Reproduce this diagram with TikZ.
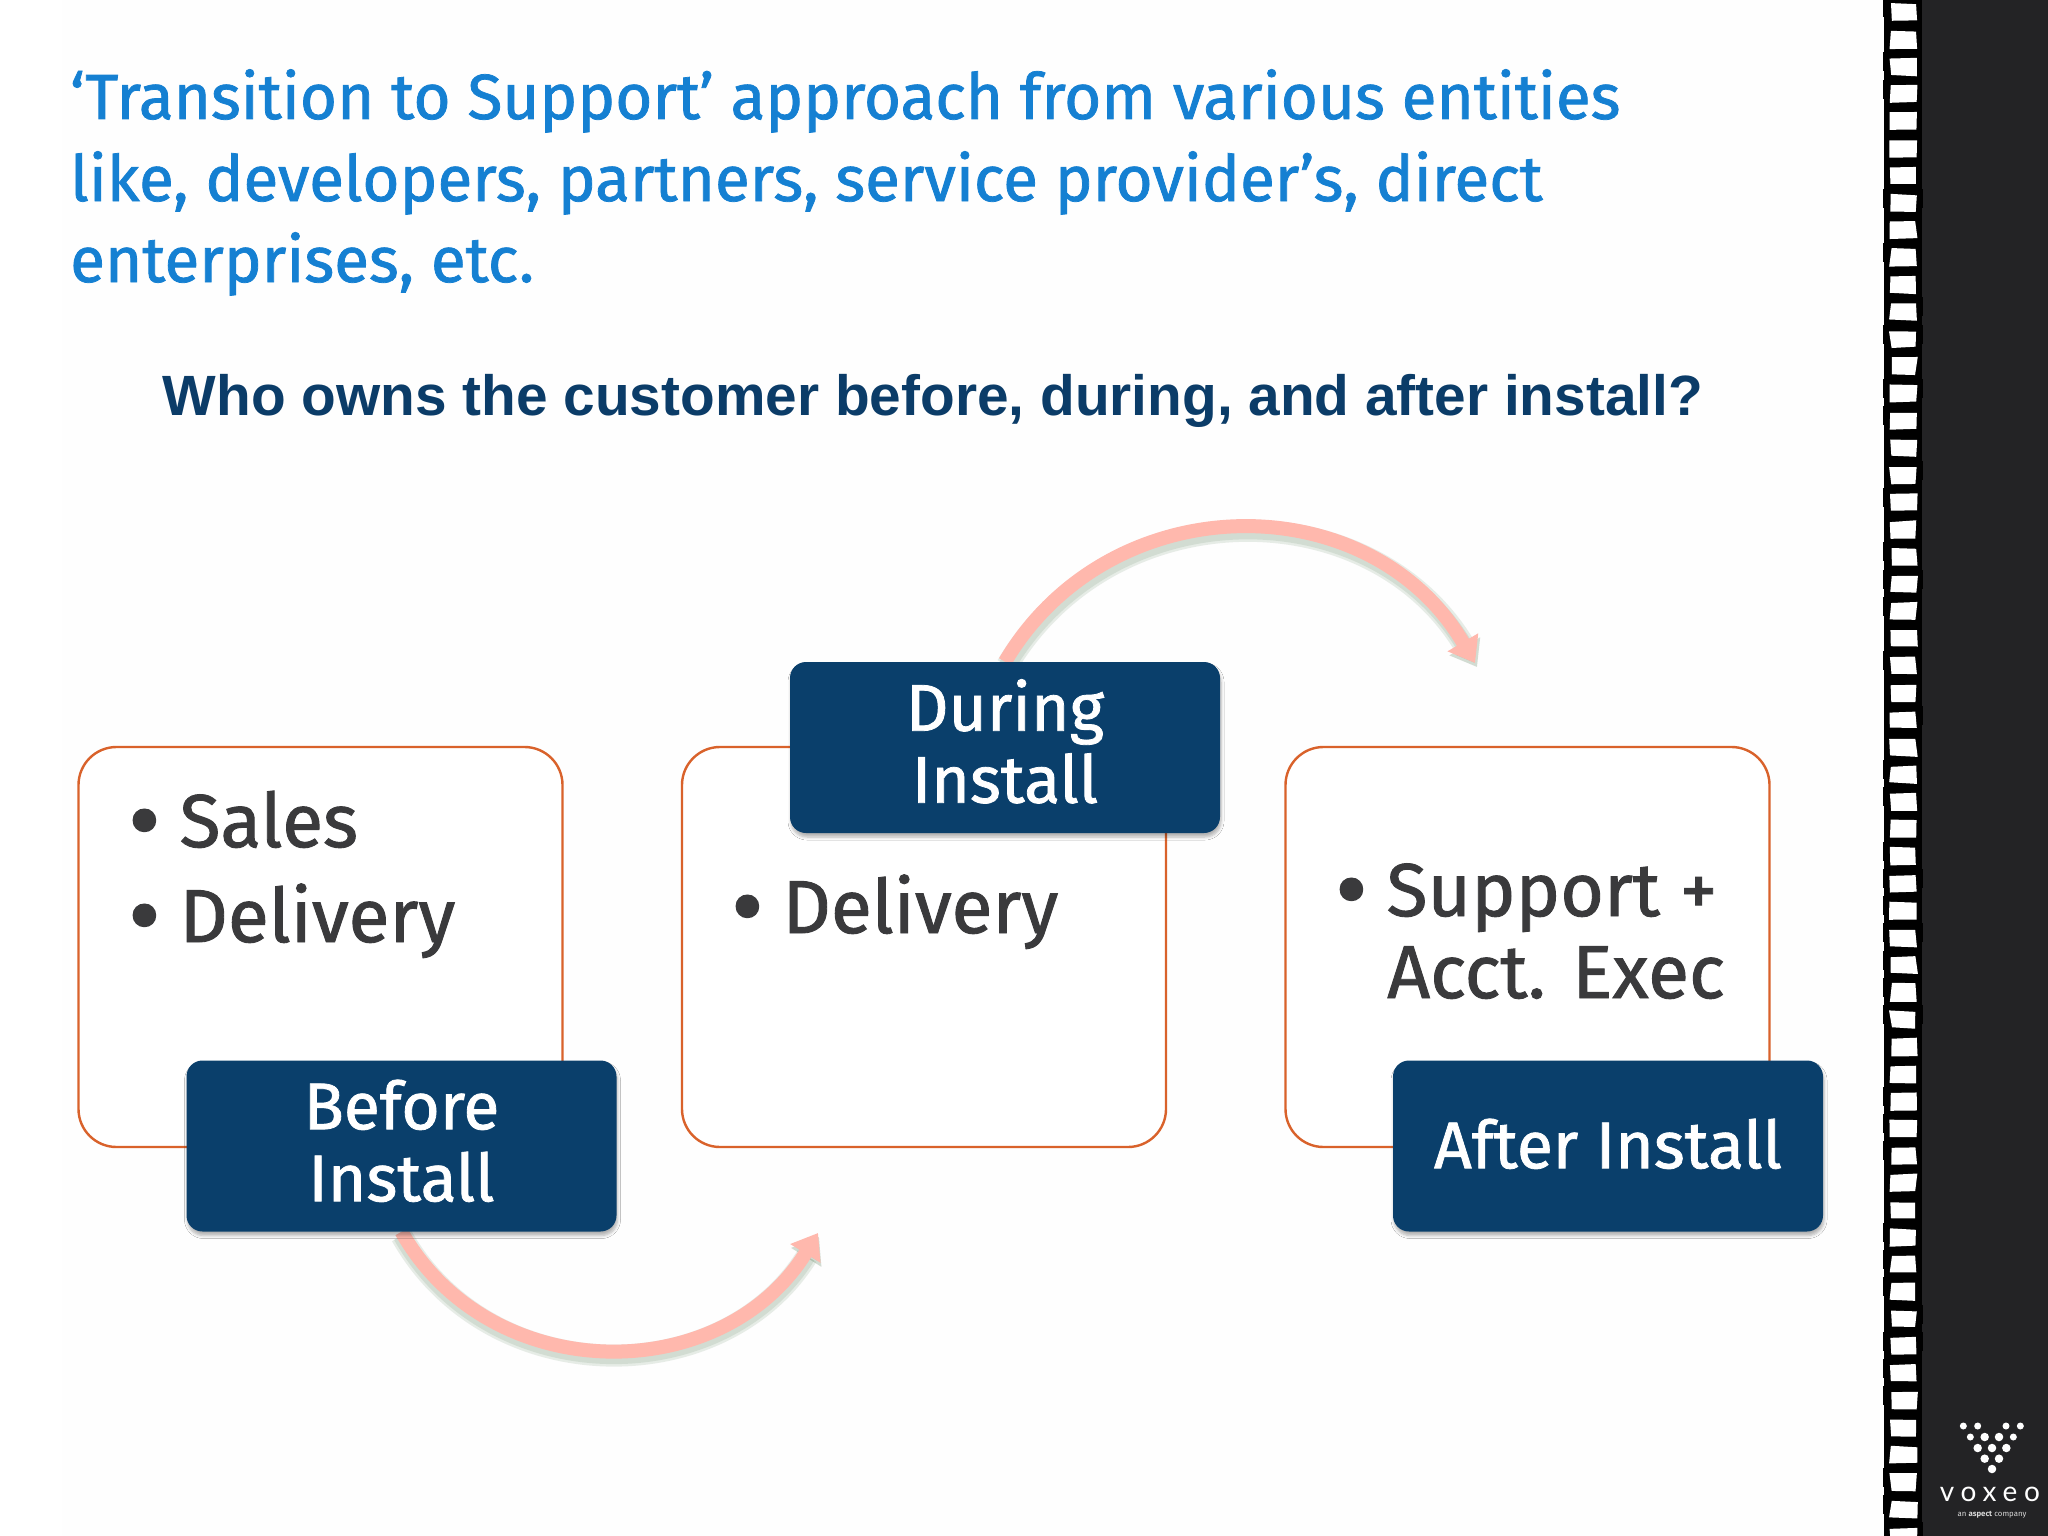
\documentclass[tikz,border=0pt]{standalone}
\usepackage{fontspec}
\usetikzlibrary{arrows.meta,shadows.blur}
\setmainfont[FakeBold=1.2]{Fira Sans}
\newfontfamily\qfont{Liberation Sans}
\newfontfamily\logofont[LetterSpace=24]{Lato}
\newfontfamily\smallfont{Fira Sans}
\definecolor{titleblue}{HTML}{1580D2}
\definecolor{navy}{HTML}{0A3F6B}
\definecolor{qnavy}{HTML}{0B3C68}
\definecolor{edgeorange}{HTML}{D9622B}
\definecolor{bodygray}{HTML}{3A3A3C}
\definecolor{arcpink}{HTML}{FFB8AD}
\definecolor{panel}{HTML}{232325}
\pgfdeclarelayer{front}
\pgfsetlayers{main,front}
\newcommand\tagtext[2]{\begin{tabular}{@{}c@{}}\rule{0pt}{#1}#2\end{tabular}}
\newcommand\itembullet{\raisebox{-7.5pt}{\fontsize{100}{72}\selectfont •}\hspace{19pt}}
\tikzset{
  x=1pt,y=-1pt,
  titleline/.style={anchor=base west,inner sep=0,text=titleblue,font=\fontsize{63.8}{64}\selectfont},
  question/.style={anchor=base,inner sep=0,text=qnavy,font=\qfont\bfseries\fontsize{56.8}{58}\selectfont},
  outline/.style={draw=edgeorange,line width=2.4pt,rounded corners=38pt,fill=white,inner sep=0,minimum width=484pt,minimum height=400pt},
  tag/.style={fill=navy,rounded corners=16pt,inner sep=0,minimum width=430pt,minimum height=171pt,text=white,
    font=\fontsize{66}{72}\selectfont,blur shadow={shadow xshift=1pt,shadow yshift=-4pt,shadow blur radius=3pt,shadow blur steps=5,shadow opacity=30}},
  item/.style={anchor=base west,inner sep=0,text=bodygray,font=\fontsize{75}{75}\selectfont},
  arcshadow/.style={line width=#1,draw=black!60!green!40!gray,opacity=.13,-{Triangle[length=24pt,width=34pt]}},
  arcline/.style={line width=14pt,draw=arcpink,-{Triangle[length=24pt,width=34pt]}},
  logodot/.style={fill=white,circle,inner sep=0,minimum size=#1},
}
\begin{document}
\begin{tikzpicture}
\useasboundingbox (0,0) rectangle (2048,1536);
\fill[white] (0,0) rectangle (2048,1536);
\fill[black!0.5] (62,0) rectangle (1880,1536);
% film strip and panel
\fill[panel] (1915,0) rectangle (2048,1536);
\pgfmathsetseed{11}
\fill[black] (1884,0) rectangle (1922,1536);
\foreach \i in {0,...,56}{
  \pgfmathsetmacro\yy{3+27.22*\i}
  \pgfmathsetmacro\aa{1889+rnd*3}\pgfmathsetmacro\bb{1889+rnd*3}
  \pgfmathsetmacro\cc{1915+rnd*3}\pgfmathsetmacro\dd{1915+rnd*3}
  \pgfmathsetmacro\ee{\yy+rnd*2}\pgfmathsetmacro\ff{\yy+rnd*2}
  \pgfmathsetmacro\gg{\yy+17+rnd*2}\pgfmathsetmacro\hh{\yy+17+rnd*2}
  \fill[white] (\aa,\ee) -- (\cc,\ff) -- (\dd,\gg) -- (\bb,\hh) -- cycle;
  \pgfmathsetmacro\jj{1882.5+rnd*1.5}\pgfmathsetmacro\kk{1921+rnd*2}
  \fill[black] (\jj,\yy-5) rectangle (1886,\yy+14);
  \fill[black] (1920,\yy-5) rectangle (\kk,\yy+14);
}
% logo
\foreach \px/\py in {370/378,413/378,498/378,541/378,391/411,520/411}
  \node[logodot=7pt] at ({1840+\px/3},{1300+\py/3}) {};
\foreach \px/\py in {434/411,477/411,413/444,456/444,499/444,434/476,477/476,456/507}
  \node[logodot=8.5pt] at ({1840+\px/3},{1300+\py/3}) {};
\node[anchor=base,inner sep=0,text=white,font=\logofont\fontsize{28}{29}\selectfont] (voxeo) at (1990,1501) {voxeo};
\node[anchor=base,inner sep=0,text=white!85!black,font=\smallfont\fontsize{7.8}{8}\selectfont] (aspect) at (1992,1516) {an \textbf{aspect} company};
% title
\node[titleline] (t1) at (70,119) {‘Transition to Support’ approach from various entities};
\node[titleline] (t2) at (70,201) {like, developers, partners, service provider’s, direct};
\node[titleline] (t3) at (70,282) {enterprises, etc.};
\node[question] (q) at (933,415) {Who owns the customer before, during, and after install?};
% outlined boxes
\node[outline] (b1) at (320.5,947) {};
\node[outline] (b2) at (924,947) {};
\node[outline] (b3) at (1527.5,947) {};
% tags
\begin{pgfonlayer}{front}
\node[tag] (before) at (401.5,1146) {\tagtext{60pt}{Before\\Install}};
\node[tag] (during) at (1005,747.5) {\tagtext{60pt}{During\\Install}};
\node[tag] (after) at (1608,1146) {\tagtext{66pt}{After Install}};
\end{pgfonlayer}
% arrows run from the tags to free ends
\coordinate (topend) at (1475,663);
\coordinate (botend) at (818,1233);
\foreach \w in {22pt,17pt}{
  \draw[arcshadow=\w] ([xshift=2pt,yshift=-4pt]during.north) .. controls (1112,489) and (1372,489) .. ([xshift=2pt,yshift=-4pt]topend);
  \draw[arcshadow=\w] ([yshift=-4pt]before.south) .. controls (490,1392) and (722,1392) .. ([xshift=1pt,yshift=-4pt]botend);
}
\draw[arcline] (during.north) .. controls (1110,484) and (1370,484) .. (topend);
\draw[arcline] (before.south) .. controls (490,1388) and (722,1388) .. (botend);
% bullets
\node[item] (s1) at (128,847) {\itembullet Sales};
\node[item] (s2) at (128,942) {\itembullet Delivery};
\node[item] (d1) at (731,933) {\itembullet Delivery};
\node[item] (x1) at (1335,916) {\itembullet Support +};
\node[item] (x2) at (1387,998) {Acct. Exec};
\end{tikzpicture}
\end{document}
